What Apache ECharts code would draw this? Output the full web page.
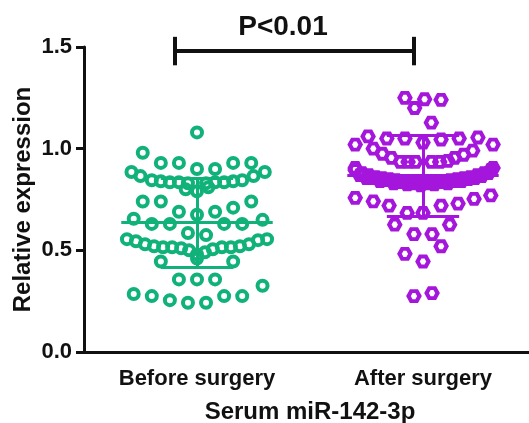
<!DOCTYPE html>
<html>
<head>
<meta charset="utf-8">
<script src="https://cdn.jsdelivr.net/npm/echarts@6/dist/echarts.min.js"></script>
<style>
  html, body { margin: 0; padding: 0; background: #fff; }
  #chart { width: 529px; height: 423px; }
</style>
</head>
<body>
<div id="chart"></div>
<script>
// ============================================================
// DATA
// ============================================================

const categories = ['Before surgery', 'After surgery'];
const yTicks = [0, 0.5, 1.0, 1.5];

// Before surgery: horizontal spread (offset from group centre) and value
const beforeDx = [
  0, -0.24, -0.16, -0.08, 0.16, 0.24, 0, 0.08,
  -0.29, -0.25, -0.20, -0.16, -0.12, -0.08, -0.04, 0.04, 0.08, 0.12, 0.16, 0.20, 0.25, 0.30,
  -0.05, 0, 0.05,
  -0.24, -0.16, 0.24, 0.16, -0.08, 0.08, 0, -0.28, 0.29,
  -0.20, -0.12, 0.12, 0.20, -0.04, 0.04,
  -0.31, -0.27, -0.23, -0.19, -0.15, -0.11, -0.07, -0.035, 0, 0.035, 0.07, 0.11, 0.15, 0.19, 0.23, 0.27, 0.31,
  -0.16, 0.16, 0,
  -0.08, 0, 0.08, 0.29,
  -0.28, -0.20, -0.12, -0.04, 0.04, 0.12, 0.20
];
const beforeY = [
  1.08, 0.98, 0.93, 0.93, 0.93, 0.93, 0.90, 0.90,
  0.885, 0.865, 0.845, 0.84, 0.835, 0.835, 0.83, 0.83, 0.835, 0.835, 0.84, 0.845, 0.865, 0.885,
  0.80, 0.79, 0.81,
  0.74, 0.74, 0.74, 0.71, 0.69, 0.69, 0.675, 0.655, 0.65,
  0.63, 0.63, 0.63, 0.63, 0.585, 0.575,
  0.555, 0.545, 0.53, 0.52, 0.515, 0.515, 0.51, 0.50, 0.48, 0.49, 0.505, 0.515, 0.515, 0.52, 0.53, 0.55, 0.555,
  0.445, 0.445, 0.46,
  0.357, 0.357, 0.357, 0.326,
  0.285, 0.275, 0.255, 0.242, 0.242, 0.275, 0.275
];

// After surgery
const afterDx = [
  -0.08, -0.037, 0.007, 0.08, 0.037,
  -0.243, -0.16, -0.08, 0.08, 0.16, 0.243, 0,
  -0.30, 0.31,
  -0.22, -0.18, -0.14, 0.14, 0.18, 0.22,
  -0.10, -0.066, -0.033, 0.037, 0.074, 0.11,
  -0.30, 0.31,
  -0.30, -0.27, -0.24, -0.21, -0.18, -0.15, -0.12, -0.09, -0.06, -0.03, 0, 0.03, 0.06, 0.09, 0.12, 0.15, 0.18, 0.21, 0.24, 0.27, 0.30,
  -0.25, -0.19, -0.13, -0.07, -0.01, 0.05, 0.11, 0.17, 0.23,
  -0.28, -0.22, -0.16, -0.10, -0.04, 0.02, 0.08, 0.14, 0.20, 0.26, 0.29,
  -0.30, -0.22, -0.15, -0.07, 0, 0.08, 0.155, 0.226, 0.30,
  -0.125, 0.118, -0.04, 0.04,
  0.08, -0.08, 0,
  -0.04, 0.04
];
const afterY = [
  1.25, 1.20, 1.243, 1.24, 1.128,
  1.06, 1.05, 1.05, 1.045, 1.05, 1.055, 1.03,
  1.02, 1.02,
  1.0, 0.975, 0.955, 0.955, 0.97, 0.99,
  0.935, 0.935, 0.935, 0.935, 0.935, 0.94,
  0.905, 0.905,
  0.895, 0.88, 0.87, 0.86, 0.855, 0.85, 0.845, 0.84, 0.84, 0.835, 0.835, 0.835, 0.84, 0.84, 0.845, 0.85, 0.855, 0.86, 0.87, 0.88, 0.895,
  0.855, 0.84, 0.83, 0.825, 0.82, 0.825, 0.83, 0.84, 0.855,
  0.87, 0.855, 0.845, 0.835, 0.83, 0.83, 0.835, 0.84, 0.85, 0.865, 0.88,
  0.758, 0.741, 0.72, 0.684, 0.684, 0.72, 0.73, 0.753, 0.77,
  0.626, 0.626, 0.58, 0.58,
  0.52, 0.483, 0.445,
  0.275, 0.29
];

// Mean and SD drawn over each group
const groupMean = [0.637, 0.868];
const groupSd = [0.218, 0.200];

// Significance bracket
const bracketY = 1.48;
const bracketCapLow = 1.41;
const bracketCapHigh = 1.55;
const pLabel = 'P<0.01';


// ============================================================
// BUILD SERIES DATA
// ============================================================

const green = '#10b27a';
const purple = '#a516dc';
const hexagon = 'path://M-2,0 L-1,-1.732 L1,-1.732 L2,0 L1,1.732 L-1,1.732 Z';

function toPoints(center, dxList, yList) {
  return yList.map(function(y, i) { return [center + dxList[i], y]; });
}

function meanSdLines(g) {
  const m = groupMean[g], s = groupSd[g];
  return [
    { coords: [[g - 0.335, m], [g + 0.335, m]] },
    { coords: [[g - 0.16, m + s], [g + 0.16, m + s]] },
    { coords: [[g - 0.16, m - s], [g + 0.16, m - s]] },
    { coords: [[g, m - s], [g, m + s]] }
  ];
}

const font = '"Liberation Sans", Arial, sans-serif';

const chart = echarts.init(document.getElementById('chart'));

chart.setOption({
  animation: false,
  backgroundColor: '#fff',
  grid: { left: 84, right: -7, top: 47, bottom: 71, containLabel: false, outerBoundsMode: 'none' },
  xAxis: [
    {
      type: 'category',
      data: categories,
      boundaryGap: true,
      name: 'Serum miR-142-3p',
      nameLocation: 'middle',
      nameGap: 48,
      nameMoveOverlap: false,
      nameTextStyle: { fontFamily: font, fontWeight: 'bold', fontSize: 24, color: '#111' },
      axisLine: { onZero: false, lineStyle: { color: '#111', width: 3 } },
      axisTick: { alignWithLabel: true, length: 8, lineStyle: { color: '#111', width: 3 } },
      axisLabel: { margin: 16, fontFamily: font, fontWeight: 'bold', fontSize: 22, color: '#111' },
      splitLine: { show: false }
    },
    {
      type: 'value',
      min: -0.5,
      max: 1.5,
      show: false
    }
  ],
  yAxis: {
    type: 'value',
    min: 0,
    max: 1.5,
    interval: 0.5,
    name: 'Relative expression',
    nameLocation: 'middle',
    nameGap: 49,
    nameMoveOverlap: false,
    nameTextStyle: { fontFamily: font, fontWeight: 'bold', fontSize: 24, color: '#111' },
    axisLine: { show: true, onZero: false, lineStyle: { color: '#111', width: 3 } },
    axisTick: { show: true, length: 8, lineStyle: { color: '#111', width: 3 } },
    axisLabel: {
      margin: 12, fontFamily: font, fontWeight: 'bold', fontSize: 22, color: '#111',
      formatter: function(v) { return yTicks.indexOf(v) >= 0 ? v.toFixed(1) : ''; }
    },
    splitLine: { show: false }
  },
  graphic: [{
    type: 'text',
    x: 283, y: 27,
    style: {
      text: pLabel,
      fill: '#111',
      font: 'bold 28px ' + font,
      textAlign: 'center',
      textVerticalAlign: 'middle'
    }
  }],
  series: [
    {
      type: 'scatter',
      xAxisIndex: 1,
      data: toPoints(0, beforeDx, beforeY),
      symbol: 'circle',
      symbolSize: 10,
      itemStyle: { color: 'rgba(0,0,0,0)', borderColor: green, borderWidth: 4, opacity: 1 },
      z: 2
    },
    {
      type: 'scatter',
      xAxisIndex: 1,
      data: toPoints(1, afterDx, afterY),
      symbol: hexagon,
      symbolSize: [11, 10],
      itemStyle: { color: 'rgba(0,0,0,0)', borderColor: purple, borderWidth: 4, opacity: 1 },
      z: 2
    },
    {
      type: 'lines',
      coordinateSystem: 'cartesian2d',
      xAxisIndex: 1,
      data: meanSdLines(0),
      lineStyle: { color: green, width: 3, opacity: 1 },
      z: 3
    },
    {
      type: 'lines',
      coordinateSystem: 'cartesian2d',
      xAxisIndex: 1,
      data: meanSdLines(1),
      lineStyle: { color: purple, width: 3, opacity: 1 },
      z: 3
    },
    {
      type: 'lines',
      coordinateSystem: 'cartesian2d',
      xAxisIndex: 1,
      clip: false,
      data: [
        { coords: [[-0.10, bracketY], [0.96, bracketY]] },
        { coords: [[-0.10, bracketCapLow], [-0.10, bracketCapHigh]] },
        { coords: [[0.96, bracketCapLow], [0.96, bracketCapHigh]] }
      ],
      lineStyle: { color: '#111', width: 4, opacity: 1 },
      z: 3
    }
  ]
});
</script>
</body>
</html>
